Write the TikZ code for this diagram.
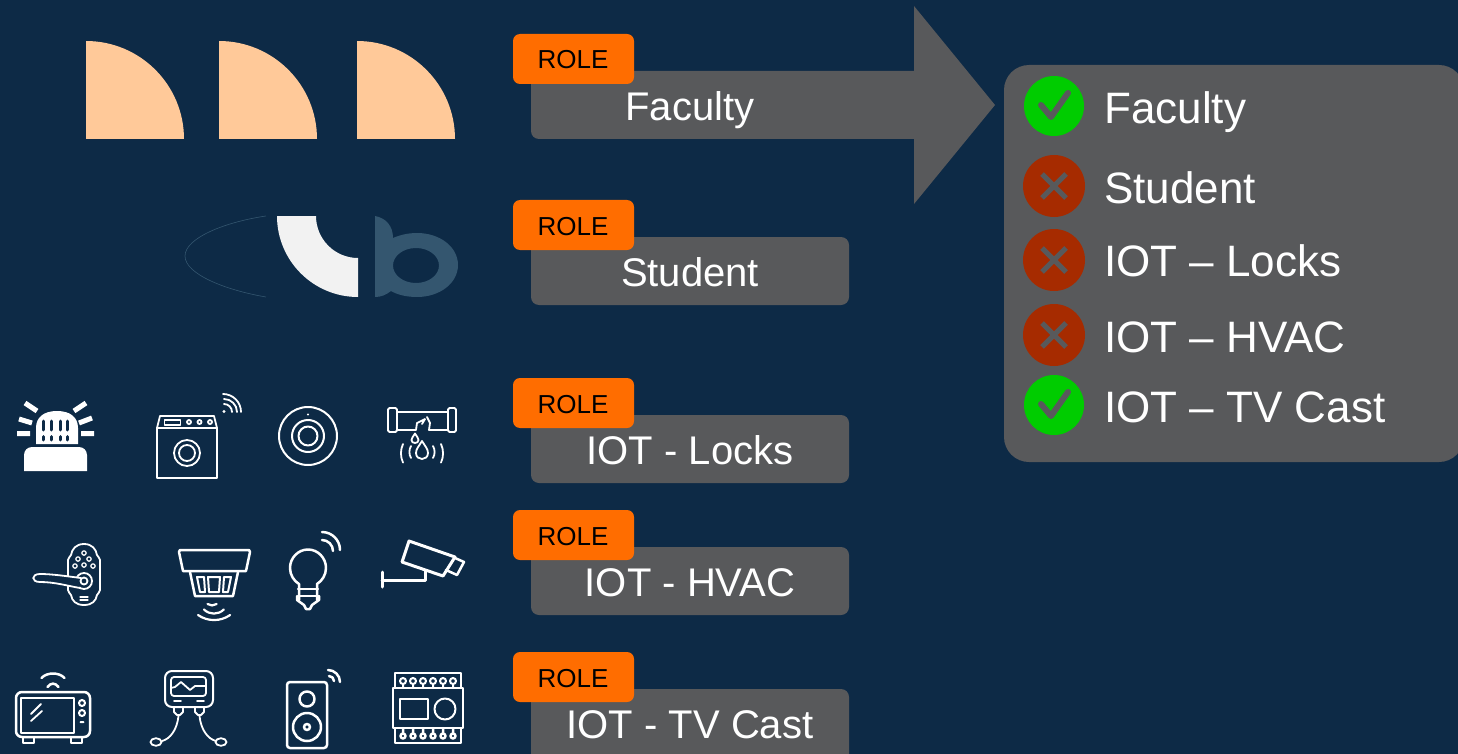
\documentclass[tikz,border=0pt]{standalone}
\usepackage{fontspec}
\setmainfont{Liberation Sans}
\definecolor{bgc}{HTML}{0D2A46}
\definecolor{grayc}{HTML}{58595B}
\definecolor{orangec}{HTML}{FF6D00}
\definecolor{peachc}{HTML}{FFC999}
\definecolor{redc}{HTML}{A62B00}
\definecolor{greenc}{HTML}{00CC00}
\definecolor{bluec}{HTML}{34566F}
\tikzset{
  rolebox/.style={fill=grayc,rounded corners=8pt},
  badge/.style={fill=orangec,rounded corners=7pt},
  roletext/.style={text=white,anchor=base,inner sep=0pt,font=\fontsize{40}{48}\selectfont},
  badgetext/.style={text=black,anchor=base,inner sep=0pt,font=\fontsize{26}{31}\selectfont},
  listtext/.style={text=white,anchor=base west,inner sep=0pt,font=\fontsize{44}{53}\selectfont},
  quarter/.style={fill=peachc},
  okdot/.style={fill=greenc},
  nodot/.style={fill=redc},
  checkglyph/.style={draw=grayc,line width=6pt,line cap=round,line join=round},
  crossglyph/.style={draw=grayc,line width=5pt},
  ico/.style={draw=white,line width=1.8pt,line join=round,line cap=round},
  icot/.style={draw=white,line width=2.5pt,line join=round,line cap=round},
  icob/.style={draw=white,line width=3pt,line join=round,line cap=round},
  slit/.style={draw=bgc,line width=3pt,line cap=round},
  ray/.style={draw=white,line width=5pt},
}
\begin{document}
\begin{tikzpicture}[x=1pt,y=-1pt]
\useasboundingbox (0,0) rectangle (1458,754);
\clip (0,0) rectangle (1458,754);
\fill[bgc] (0,0) rectangle (1458,754);
% quarter shapes
\fill[quarter] (86,139) -- (86,41) arc[start angle=-90,end angle=0,radius=98] -- cycle;
\fill[quarter] (219,139) -- (219,41) arc[start angle=-90,end angle=0,radius=98] -- cycle;
\fill[quarter] (357,139) -- (357,41) arc[start angle=-90,end angle=0,radius=98] -- cycle;
% logo
\draw[draw=bluec,line width=0.6pt] (266,216) .. controls (225,222) and (185,238) .. (185,256) .. controls (185,274) and (225,290) .. (266,297);
\fill[white!95!black] (277,216) -- (316,216) arc[start angle=180,end angle=90,radius=42] -- (358,297) arc[start angle=90,end angle=180,radius=81] -- cycle;
\fill[bluec,even odd rule] (375,216) .. controls (386,218) and (393,226) .. (393,238) .. controls (400,235) and (408,233) .. (417,233)
  .. controls (440,233) and (458,247) .. (458,265) .. controls (458,283) and (440,297) .. (417,297) .. controls (407,297) and (398,295) .. (391,291) .. controls (386,295) and (381,297) .. (375,297) -- cycle
  (416,248) .. controls (403,248) and (393,256) .. (393,265.5) .. controls (393,275) and (403,283) .. (416,283) .. controls (429,283) and (439,275) .. (439,265.5) .. controls (439,256) and (429,248) .. (416,248) -- cycle;
% siren
\fill[white] (24,471) -- (24,455) arc[start angle=180,end angle=270,radius=8] -- (79,447) arc[start angle=-90,end angle=0,radius=8] -- (87,471) -- cycle;
\fill[white] (36,444) -- (36,428) .. controls (36,417) and (44,411) .. (57,411) .. controls (70,411) and (78,417) .. (78,428) -- (78,444) -- cycle;
\foreach \sx in {43.5,51.5,60,67.5}{
  \draw[slit] (\sx,421) -- (\sx,430);
  \draw[slit] (\sx,436.5) -- (\sx,440);
}
\draw[ray] (17,433.5) -- (30,433.5) (19,419) -- (32,423) (25,403) -- (37,411);
\draw[ray] (81,433.5) -- (94,433.5) (79,423) -- (92,418) (74,411) -- (86,403);
% washer
\draw[ico] (157,428) rectangle (217,478);
\draw[ico] (157,428) -- (160,416) -- (214,416) -- (217,428);
\draw[ico] (164.5,420) rectangle (180.5,425);
\foreach \dx in {189,199.5,210}{\draw[ico] (\dx,422) circle[radius=2];}
\draw[ico] (187,453) circle[radius=13] (187,453) circle[radius=8];
\fill[white] (224,411.5) circle[radius=1.6];
\draw[ico] (224,404) arc[start angle=-90,end angle=0,radius=8];
\draw[ico] (224,399) arc[start angle=-90,end angle=0,radius=13];
\draw[ico] (223,394) arc[start angle=-90,end angle=0,radius=18];
% thermostat
\draw[icot,line width=2pt] (308,436) circle[radius=29] (308,436) circle[radius=16] (308,436) circle[radius=9.5];
\fill[white] (308,414.5) circle[radius=1.2];
% pipe
\draw[ico,rounded corners=1.5pt] (388,408) rectangle (397,432);
\draw[ico,rounded corners=1.5pt] (448,408) rectangle (456,432);
\draw[ico] (397,412) -- (448,412);
\draw[ico] (397,430) -- (416,430) -- (417,423) -- (425,419) -- (422,424);
\draw[ico] (448,430) -- (429,430) -- (430,423) -- (427,417);
\draw[ico] (415,433.5) .. controls (413,437) and (411.5,438) .. (411.5,440) .. controls (411.5,444) and (418.5,444) .. (418.5,440) .. controls (418.5,438) and (417,437) .. (415,433.5) -- cycle;
\draw[ico] (422,441) .. controls (419,446) and (416,449) .. (416,453) .. controls (416,461) and (428,461) .. (428,453) .. controls (428,449) and (425,446) .. (422,441) -- cycle;
\draw[ico] (411,446) arc[start angle=210,end angle=150,radius=12];
\draw[ico] (433,446) arc[start angle=-30,end angle=30,radius=12];
\draw[ico] (403,444) arc[start angle=205,end angle=155,radius=22];
\draw[ico] (441,444) arc[start angle=-25,end angle=25,radius=22];
% lock
\draw[ico] (84,544) .. controls (76,544) and (72,549) .. (71,555) .. controls (70,557) and (68,558) .. (68,560) -- (68,590) .. controls (68,592) and (70,593) .. (71,595) .. controls (72,601) and (76,605) .. (84,605) .. controls (92,605) and (96,601) .. (97,595) .. controls (98,593) and (100,592) .. (100,590) -- (100,560) .. controls (100,558) and (98,557) .. (97,555) .. controls (96,549) and (92,544) .. (84,544) -- cycle;
\fill[bgc] (84,581) circle[radius=8];
\draw[ico] (84,581) circle[radius=8] (84,581) circle[radius=3.5];
\fill[bgc] (78,577) .. controls (65,576) and (52,574) .. (40,574) .. controls (31,574) and (31,582) .. (40,582) .. controls (55,582) and (68,586) .. (80,588) -- cycle;
\draw[ico] (81,578) .. controls (65,576) and (52,574) .. (40,574) .. controls (31,574) and (31,582) .. (40,582) .. controls (55,582) and (68,586) .. (80,588);
\foreach \lx/\ly in {84/553,78/559,89/559,84/565,75/566,93/566}{\draw[ico,line width=1.2pt] (\lx,\ly) circle[radius=2.2];}
\draw[ico,line width=1.2pt] (80,597) -- (88,597) (80,600) -- (88,600);
% smoke detector
\draw[icot] (180,550) -- (249,550) -- (250,552) -- (246,571) -- (183,571) -- (179,552) -- cycle;
\draw[icot] (190,572) -- (195,596) -- (233,596) -- (238,572);
\draw[ico,line width=2pt] (197,577) -- (204,577) -- (205,592) -- (200,592) -- cycle;
\draw[ico,line width=2pt] (208,577) -- (220,577) -- (219,592) -- (209,592) -- cycle;
\draw[ico,line width=2pt] (224,577) -- (231,577) -- (228,592) -- (223,592) -- cycle;
\draw[icot,line width=2.2pt] (207.5,604) arc[start angle=125,end angle=55,radius=8];
\draw[icot,line width=2.2pt] (204,609.5) arc[start angle=135,end angle=45,radius=14];
\draw[icot,line width=2.2pt] (198,615) arc[start angle=125,end angle=55,radius=28];
% bulb
\draw[icot] (299,600) -- (299,584) .. controls (294,581) and (290,575) .. (290,568) .. controls (290,558) and (298,549.5) .. (308,549.5) .. controls (318,549.5) and (326,558) .. (326,568) .. controls (326,575) and (322,581) .. (317,584) -- (317,600);
\draw[icot] (298,589) -- (318,589) (298,596) -- (319,596);
\draw[icot] (297,596) -- (297,600) -- (304,605) -- (306,609) -- (310,609) -- (312,605) -- (319,600) -- (319,596);
\draw[icot] (322,532) arc[start angle=-90,end angle=0,radius=18];
\draw[icot] (322,540) arc[start angle=-90,end angle=0,radius=11];
% camera
\draw[icob] (409,541) -- (455,557) -- (443,576) -- (402,562) -- cycle;
\draw[icob,line width=2.5pt] (455,558) -- (464,562) -- (457,575) -- (446,570);
\draw[icob] (382,572) -- (382,587) (382,580) -- (425,580) -- (425,571);
% tv
\draw[icot] (22,692) -- (84,692) arc[start angle=-90,end angle=0,radius=6] -- (90,731) arc[start angle=0,end angle=90,radius=6] -- (22,737) arc[start angle=90,end angle=180,radius=6] -- (16,698) arc[start angle=180,end angle=270,radius=6] -- cycle;
\draw[icot] (21,698) rectangle (74,733);
\draw[ico,line width=2pt] (82,703) circle[radius=3] (82,713) circle[radius=3] (80.5,722) -- (83.5,722);
\draw[ico] (23,738) -- (23,743) -- (34,743) -- (34,738) (71,738) -- (71,743) -- (82,743) -- (82,738);
\draw[ico] (31,714) -- (41,704) (31,721) -- (42,711);
\draw[icot] (41.5,678) .. controls (47,672) and (59,672) .. (64.5,678);
\draw[icot] (47.5,687) .. controls (50.5,682.5) and (55.5,682.5) .. (58.5,687);
% meter
\draw[ico,line width=2pt,rounded corners=7pt] (165,671) rectangle (213,707);
\draw[ico,rounded corners=3pt] (171,677) rectangle (206,696);
\draw[ico] (171,688) -- (175,687) -- (181,682) -- (190,690) -- (195,686) -- (206,686);
\draw[ico] (174,701) -- (181,701) (197,701) -- (204,701);
\draw[ico] (174,708) -- (174,712) -- (177,715) -- (180,715) -- (183,712) -- (183,708);
\draw[ico] (195,708) -- (195,712) -- (198,715) -- (201,715) -- (204,712) -- (204,708);
\draw[ico] (178.5,716) .. controls (177,730) and (170,739) .. (162,741);
\draw[ico] (199.5,716) .. controls (201,730) and (208,739) .. (216,741);
\draw[ico] (156,742) ellipse[x radius=5.5,y radius=3.8] (221,742) ellipse[x radius=5.5,y radius=3.8];
% speaker
\draw[icot,rounded corners=3pt] (287,682) rectangle (327,748);
\draw[icot] (307,699) circle[radius=7.5] (307,727) circle[radius=14];
\draw[icot] (307,727) circle[radius=3];
\draw[icot] (328,670) arc[start angle=-90,end angle=0,radius=12];
\draw[icot] (329,676) arc[start angle=-90,end angle=0,radius=5];
% module
\draw[ico,line width=2pt] (393,688) rectangle (463,728);
\draw[ico,line width=2pt] (395,688) -- (395,673) -- (461,673) -- (461,688);
\draw[ico,line width=2pt] (395,728) -- (395,743) -- (461,743) -- (461,728);
\draw[ico,line width=2pt] (400,699) rectangle (428,718.5);
\draw[ico,line width=2pt] (445,709) circle[radius=10.5];
\foreach \tx in {403,413,423,433,443,453}{
  \draw[ico,line width=2pt] (\tx,681) circle[radius=3] (\tx,684) -- (\tx,688);
  \draw[ico,line width=2.5pt] (\tx,736) circle[radius=2.5] (\tx,733.5) -- (\tx,728);
}
% role boxes
\fill[grayc] (914,71) -- (539,71) arc[start angle=-90,end angle=-180,radius=8] -- (531,131) arc[start angle=180,end angle=90,radius=8] -- (914,139) -- (914,204) -- (995,105) -- (914,6) -- cycle;
\fill[rolebox] (531,237) rectangle (849,305);
\fill[rolebox] (531,415) rectangle (849,483);
\fill[rolebox] (531,547) rectangle (849,615);
\fill[rolebox] (531,689) rectangle (849,765);
\node[roletext] (t1) at (690,121) {Faculty};
\node[roletext] (t2) at (690,286) {Student};
\node[roletext] (t3) at (690,464) {IOT - Locks};
\node[roletext] (t4) at (690,596) {IOT - HVAC};
\node[roletext] (t5) at (690,738) {IOT - TV Cast};
\fill[badge] (513,34) rectangle (634,84);
\fill[badge] (513,200) rectangle (634,250);
\fill[badge] (513,378) rectangle (634,428);
\fill[badge] (513,510) rectangle (634,560);
\fill[badge] (513,652) rectangle (634,702);
\node[badgetext] (b1) at (573,69) {ROLE};
\node[badgetext] (b2) at (573,235) {ROLE};
\node[badgetext] (b3) at (573,413) {ROLE};
\node[badgetext] (b4) at (573,545) {ROLE};
\node[badgetext] (b5) at (573,687) {ROLE};
% panel
\fill[grayc,rounded corners=25pt] (1004,65) rectangle (1464,462);
\fill[okdot] (1054,106) circle[radius=30];
\fill[nodot] (1054,186) circle[radius=31];
\fill[nodot] (1054,260) circle[radius=31];
\fill[nodot] (1054,335) circle[radius=31];
\fill[okdot] (1054,405) circle[radius=30];
\foreach \cy in {106,405}{
  \draw[checkglyph] (1041,\cy-1) -- (1051,\cy+11) -- (1068,\cy-13);
}
\foreach \cy in {186,260,335}{
  \draw[crossglyph] (1042,\cy-12) -- (1066,\cy+12) (1066,\cy-12) -- (1042,\cy+12);
}
\node[listtext] (l1) at (1104,123.5) {Faculty};
\node[listtext] (l2) at (1104,203.5) {Student};
\node[listtext] (l3) at (1104,276) {IOT – Locks};
\node[listtext] (l4) at (1104,352) {IOT – HVAC};
\node[listtext] (l5) at (1104,422) {IOT – TV Cast};
\end{tikzpicture}
\end{document}
